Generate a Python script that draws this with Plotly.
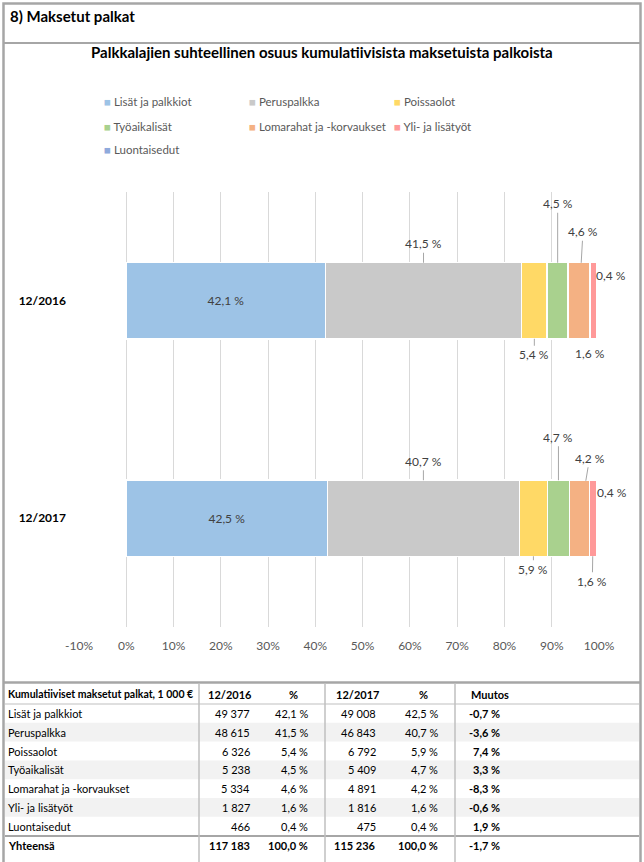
import plotly.graph_objects as go

# ---------------- data ----------------
years = ["12/2016", "12/2017"]
series = ["Lisät ja palkkiot", "Peruspalkka", "Poissaolot", "Työaikalisät",
          "Lomarahat ja -korvaukset", "Yli- ja lisätyöt", "Luontaisedut"]
vals_2016 = [49377, 48615, 6326, 5238, 5334, 1827, 466]
vals_2017 = [49008, 46843, 6792, 5409, 4891, 1816, 475]
pct_2016 = ["42,1 %", "41,5 %", "5,4 %", "4,5 %", "4,6 %", "1,6 %", "0,4 %"]
pct_2017 = ["42,5 %", "40,7 %", "5,9 %", "4,7 %", "4,2 %", "1,6 %", "0,4 %"]
muutos = ["-0,7 %", "-3,6 %", "7,4 %", "3,3 %", "-8,3 %", "-0,6 %", "1,9 %"]
total_2016 = "117 183"
total_2017 = "115 236"
total_muutos = "-1,7 %"
x_ticks = [-10, 0, 10, 20, 30, 40, 50, 60, 70, 80, 90, 100]

# ---------------- style ----------------
colors = ["#9DC3E6", "#C9C9C9", "#FFD966", "#A9D18E", "#F4B183", "#FF9999", "#8FAADC"]
FONT = "Lato"
W, H = 644, 862


def px(x):
    return x / W


def py(y):
    return 1 - y / H


def fmt_num(v):
    return f"{v:,}".replace(",", " ")


tot16 = sum(vals_2016)
tot17 = sum(vals_2017)
share16 = [v / tot16 * 100 for v in vals_2016]
share17 = [v / tot17 * 100 for v in vals_2017]

fig = go.Figure()
for i, name in enumerate(series):
    fig.add_trace(go.Bar(
        name=name, orientation="h", y=years, x=[share16[i], share17[i]],
        marker=dict(color=colors[i], line=dict(color="white", width=1.5)),
        showlegend=False, hoverinfo="skip",
        text=[pct_2016[i], pct_2017[i]] if i == 0 else None,
        textposition="inside" if i == 0 else None,
        insidetextanchor="middle",
        textfont=dict(family=FONT, size=12, color="#404040"),
    ))

annotations = []
# data labels with leader lines (pixel offsets relative to segment centre)
offsets = {
    "12/2016": [None, (0, -57, True), (0, 54, True), (0, -97, True), (4, -69, True), (-3, 53, False), (13, -25, False)],
    "12/2017": [None, (0, -57, True), (0, 51, True), (0, -81, True), (10, -60, True), (-1, 63, True), (14, -26, False)],
}
for yr, shares, pcts in [("12/2016", share16, pct_2016), ("12/2017", share17, pct_2017)]:
    cum = 0
    for i, s in enumerate(shares):
        c = cum + s / 2
        cum += s
        off = offsets[yr][i]
        if off is None:
            continue
        ax, ay, leader = off
        annotations.append(dict(
            x=c, y=yr, xref="x", yref="y", text=pcts[i], showarrow=True,
            ax=ax, ay=ay, axref="pixel", ayref="pixel", arrowhead=0,
            arrowwidth=1, arrowcolor="#A6A6A6" if leader else "rgba(0,0,0,0)",
            standoff=38, font=dict(family=FONT, size=12, color="#404040"),
        ))

# header and title
annotations.append(dict(x=px(8), y=py(16), xref="paper", yref="paper", text="<b>8) Maksetut palkat</b>",
                        showarrow=False, xanchor="left", yanchor="middle",
                        font=dict(family=FONT, size=15, color="#000000")))
annotations.append(dict(x=px(322), y=py(52), xref="paper", yref="paper",
                        text="<b>Palkkalajien suhteellinen osuus kumulatiivisista maksetuista palkoista</b>",
                        showarrow=False, xanchor="center", yanchor="middle",
                        font=dict(family=FONT, size=15, color="#000000")))

# legend (manual)
leg_x = [105, 250, 395]
leg_y = [102, 126, 149]
for i, name in enumerate(series):
    r, c = divmod(i, 3)
    annotations.append(dict(
        x=px(leg_x[c] - 3), y=py(leg_y[r]), xref="paper", yref="paper",
        text=f"<span style='color:{colors[i]}'>■</span> {name}",
        showarrow=False, xanchor="left", yanchor="middle",
        font=dict(family=FONT, size=11.5, color="#595959")))

# table
shapes = []
row_h = 18.8
row_top = 704
for i in range(len(series)):
    if i % 2 == 1:
        shapes.append(dict(type="rect", xref="paper", yref="paper", x0=px(5), x1=px(639),
                           y0=py(row_top + row_h * (i + 1)), y1=py(row_top + row_h * i),
                           fillcolor="#F2F2F2", line=dict(width=0), layer="below"))

tfont = dict(family=FONT, size=11, color="#000000")
header_cols = [("Kumulatiiviset maksetut palkat, 1 000 €", 6, "left", 10.5), ("12/2016", 230, "center", 11),
               ("%", 293, "center", 11), ("12/2017", 357, "center", 11), ("%", 423, "center", 11),
               ("Muutos", 490, "center", 11)]
for txt, x, anc, fs in header_cols:
    annotations.append(dict(x=px(x), y=py(694), xref="paper", yref="paper", text=f"<b>{txt}</b>",
                            showarrow=False, xanchor=anc, yanchor="middle",
                            font=dict(family=FONT, size=fs, color="#000000")))

right_x = [252, 310, 378, 440, 502]
for i, name in enumerate(series):
    yc = py(row_top + row_h * (i + 0.5))
    annotations.append(dict(x=px(6), y=yc, xref="paper", yref="paper", text=name, showarrow=False,
                            xanchor="left", yanchor="middle", font=tfont))
    cells = [fmt_num(vals_2016[i]), pct_2016[i], fmt_num(vals_2017[i]), pct_2017[i], f"<b>{muutos[i]}</b>"]
    for txt, x in zip(cells, right_x):
        annotations.append(dict(x=px(x), y=yc, xref="paper", yref="paper", text=txt, showarrow=False,
                                xanchor="right", yanchor="middle", font=tfont))

yt = py(845)
annotations.append(dict(x=px(6), y=yt, xref="paper", yref="paper", text="<b>Yhteensä</b>", showarrow=False,
                        xanchor="left", yanchor="middle", font=tfont))
for txt, x in zip([total_2016, "100,0 %", total_2017, "100,0 %", total_muutos], right_x):
    annotations.append(dict(x=px(x), y=yt, xref="paper", yref="paper", text=f"<b>{txt}</b>", showarrow=False,
                            xanchor="right", yanchor="middle", font=tfont))

# frame lines
border = "#A6A6A6"
shapes += [
    dict(type="rect", xref="paper", yref="paper", x0=px(3.5), x1=px(640.5), y0=-0.02, y1=py(3.5),
         line=dict(color=border, width=2.5)),
    dict(type="line", xref="paper", yref="paper", x0=px(3.5), x1=px(640.5), y0=py(43), y1=py(43),
         line=dict(color=border, width=2)),
    dict(type="line", xref="paper", yref="paper", x0=px(3.5), x1=px(640.5), y0=py(682.5), y1=py(682.5),
         line=dict(color=border, width=2.5)),
    dict(type="line", xref="paper", yref="paper", x0=px(5), x1=px(639), y0=py(704), y1=py(704),
         line=dict(color="#BFBFBF", width=1)),
    dict(type="line", xref="paper", yref="paper", x0=px(5), x1=px(639), y0=py(836), y1=py(836),
         line=dict(color=border, width=2)),
]
for vx in [199, 325, 455]:
    shapes.append(dict(type="line", xref="paper", yref="paper", x0=px(vx), x1=px(vx), y0=-0.01, y1=py(683),
                       line=dict(color="#BFBFBF", width=1.5)))

fig.update_layout(
    width=W, height=H, margin=dict(l=0, r=0, t=0, b=0, pad=0, autoexpand=False),
    paper_bgcolor="white", plot_bgcolor="white",
    barmode="stack", bargap=0.65,
    xaxis=dict(domain=[px(79), px(599)], range=[-10, 100], tickvals=x_ticks,
               ticktext=[f"{t}%" for t in x_ticks], showgrid=True, gridcolor="#D9D9D9",
               gridwidth=1, zeroline=False, showline=False, ticks="", automargin=False,
               ticklabelstandoff=10, tickfont=dict(family=FONT, size=12, color="#595959"),
               fixedrange=True),
    yaxis=dict(domain=[py(627), py(192)], autorange="reversed", showgrid=False, zeroline=False,
               showline=False, ticks="", ticklabelstandoff=12, automargin=False,
               tickfont=dict(family=FONT, size=12, color="#000000", weight="bold"), fixedrange=True),
    annotations=annotations, shapes=shapes,
    font=dict(family=FONT),
)

fig.write_html("out.html", config={"displayModeBar": False},
               post_script="document.body.style.margin='0';document.body.style.overflow='hidden';")
